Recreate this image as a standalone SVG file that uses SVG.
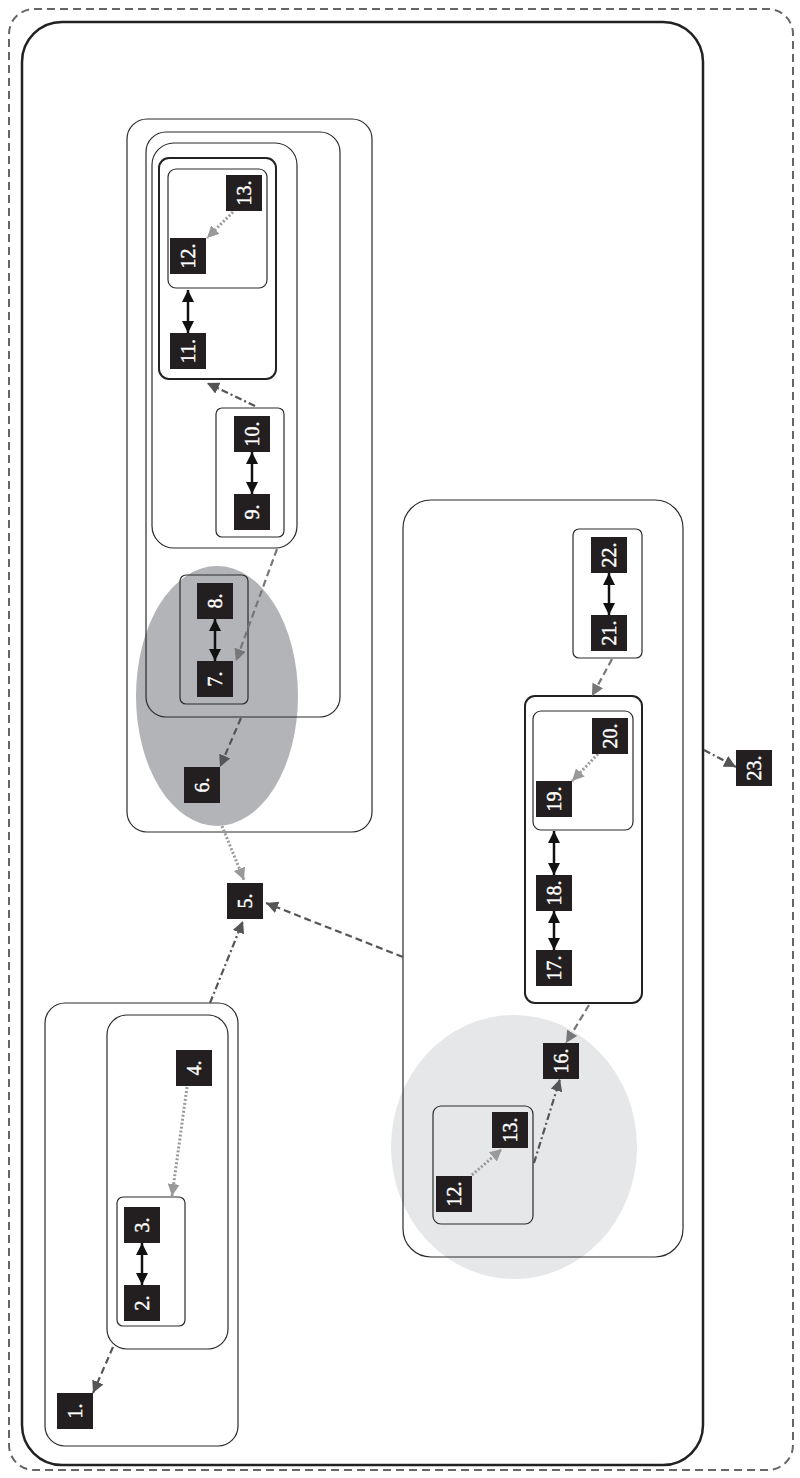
<svg xmlns="http://www.w3.org/2000/svg" width="800" height="1478" viewBox="0 0 800 1478">
<style>
.c{fill:none;stroke:#2b2b2b;stroke-width:1.2}
.ck{fill:none;stroke:#222;stroke-width:2}
.n{fill:#231f20}
.t{fill:#fff;stroke:#fff;stroke-width:0.4;font-family:"Liberation Serif","DejaVu Serif",serif;font-size:20px;text-anchor:middle;dominant-baseline:central}
.bi{stroke:#111;stroke-width:2.5;fill:none;marker-start:url(#ab);marker-end:url(#ab)}
.dot{stroke:#9a9a9a;stroke-width:3;stroke-dasharray:2 2;fill:none;marker-end:url(#al)}
.dsh{stroke:#555;stroke-width:2.2;stroke-dasharray:7 4;fill:none;marker-end:url(#ad)}
.dshg{stroke:#777;stroke-width:2.2;stroke-dasharray:7 4;fill:none;marker-end:url(#ag)}
.dd{stroke:#555;stroke-width:2.2;stroke-dasharray:7 3 2 3;fill:none;marker-end:url(#ad)}
</style>
<defs>
<marker id="ab" markerUnits="userSpaceOnUse" markerWidth="12" markerHeight="12" viewBox="0 0 10 10" refX="10" refY="5" orient="auto-start-reverse"><path d="M0,0L10,5L0,10z" fill="#111"/></marker>
<marker id="al" markerUnits="userSpaceOnUse" markerWidth="12" markerHeight="12" viewBox="0 0 10 10" refX="10" refY="5" orient="auto"><path d="M0,0L10,5L0,10z" fill="#999"/></marker>
<marker id="ad" markerUnits="userSpaceOnUse" markerWidth="12" markerHeight="12" viewBox="0 0 10 10" refX="10" refY="5" orient="auto"><path d="M0,0L10,5L0,10z" fill="#555"/></marker>
<marker id="ag" markerUnits="userSpaceOnUse" markerWidth="12" markerHeight="12" viewBox="0 0 10 10" refX="10" refY="5" orient="auto"><path d="M0,0L10,5L0,10z" fill="#777"/></marker>
</defs>
<rect width="800" height="1478" fill="#fff"/>
<g id="bg-shapes">
<ellipse cx="217" cy="696" rx="81" ry="130" fill="#b3b4b7"/>
<ellipse cx="514" cy="1147" rx="123" ry="132" fill="#e6e7e8"/>
</g>
<g id="containers">
<rect x="9" y="9" width="784" height="1461" rx="25" fill="none" stroke="#666" stroke-width="2" stroke-dasharray="8 5"/>
<rect x="22" y="22" width="681" height="1443" rx="40" fill="none" stroke="#222" stroke-width="2.5"/>
<rect class="c" x="127" y="119" width="245" height="713" rx="20"/>
<rect class="c" x="146" y="132" width="194" height="585" rx="20"/>
<rect class="c" x="152" y="143" width="145" height="405" rx="22"/>
<rect class="ck" x="159" y="158" width="117" height="221" rx="10"/>
<rect class="c" x="168" y="169" width="99" height="119" rx="8"/>
<rect class="c" x="216" y="408" width="68" height="129" rx="6"/>
<rect class="c" x="180" y="575" width="68" height="129" rx="6"/>
<rect class="c" x="403" y="500" width="280" height="757" rx="28"/>
<rect class="c" x="573" y="529" width="69" height="129" rx="6"/>
<rect class="ck" x="525" y="696" width="117" height="307" rx="10"/>
<rect class="c" x="533" y="711" width="100" height="119" rx="8"/>
<rect class="c" x="433" y="1106" width="100" height="118" rx="8"/>
<rect class="c" x="45" y="1003" width="193" height="443" rx="20"/>
<rect class="c" x="107" y="1015" width="121" height="334" rx="20"/>
<rect class="c" x="117" y="1197" width="68" height="129" rx="6"/>
</g>
<g id="connectors">
<path class="dot" d="M233,212L207,238"/>
<path class="bi" d="M188,290L188,333"/>
<path class="dd" d="M255,406L207,383"/>
<path class="bi" d="M252,452L252,494"/>
<path class="dshg" d="M277,549L236,661"/>
<path class="bi" d="M215,619L215,661"/>
<path class="dsh" d="M241,718L220,767"/>
<path class="dot" d="M222,826L244,880"/>
<path class="dsh" d="M403,957L266,903"/>
<path class="dd" d="M210,1003L243,921"/>
<path class="bi" d="M609,573L609,615"/>
<path class="dshg" d="M612,659L592,696"/>
<path class="dot" d="M598,754L572,781"/>
<path class="bi" d="M554,831L554,875"/>
<path class="bi" d="M554,911L554,950"/>
<path class="dshg" d="M589,1005L566,1043"/>
<path class="dot" d="M472,1175L502,1149"/>
<path class="dd" d="M534,1163L560,1079"/>
<path class="dot" d="M187,1087L172,1196"/>
<path class="bi" d="M142,1243L142,1285"/>
<path class="dsh" d="M113,1347L93,1393"/>
<path class="dd" d="M704,750L736,767"/>
</g>
<g id="n1"><rect class="n" x="57" y="1393" width="36" height="36"/><text class="t" transform="rotate(-90 75 1411)" x="75" y="1411">1.</text></g>
<g id="n2"><rect class="n" x="124" y="1285" width="36" height="36"/><text class="t" transform="rotate(-90 142 1303)" x="142" y="1303">2.</text></g>
<g id="n3"><rect class="n" x="124" y="1207" width="36" height="36"/><text class="t" transform="rotate(-90 142 1225)" x="142" y="1225">3.</text></g>
<g id="n4"><rect class="n" x="176" y="1050" width="36" height="36"/><text class="t" transform="rotate(-90 194 1068)" x="194" y="1068">4.</text></g>
<g id="n5"><rect class="n" x="227" y="883" width="36" height="36"/><text class="t" transform="rotate(-90 245 901)" x="245" y="901">5.</text></g>
<g id="n6"><rect class="n" x="184" y="767" width="36" height="36"/><text class="t" transform="rotate(-90 202 785)" x="202" y="785">6.</text></g>
<g id="n7"><rect class="n" x="197" y="661" width="36" height="36"/><text class="t" transform="rotate(-90 215 679)" x="215" y="679">7.</text></g>
<g id="n8"><rect class="n" x="197" y="583" width="36" height="36"/><text class="t" transform="rotate(-90 215 601)" x="215" y="601">8.</text></g>
<g id="n9"><rect class="n" x="234" y="494" width="36" height="36"/><text class="t" transform="rotate(-90 252 512)" x="252" y="512">9.</text></g>
<g id="n10"><rect class="n" x="234" y="416" width="36" height="36"/><text class="t" transform="rotate(-90 252 434)" x="252" y="434">10.</text></g>
<g id="n11"><rect class="n" x="170" y="333" width="36" height="36"/><text class="t" transform="rotate(-90 188 351)" x="188" y="351">11.</text></g>
<g id="n12a"><rect class="n" x="170" y="238" width="36" height="36"/><text class="t" transform="rotate(-90 188 256)" x="188" y="256">12.</text></g>
<g id="n13a"><rect class="n" x="226" y="175" width="36" height="36"/><text class="t" transform="rotate(-90 244 193)" x="244" y="193">13.</text></g>
<g id="n12b"><rect class="n" x="436" y="1176" width="36" height="36"/><text class="t" transform="rotate(-90 454 1194)" x="454" y="1194">12.</text></g>
<g id="n13b"><rect class="n" x="492" y="1112" width="36" height="36"/><text class="t" transform="rotate(-90 510 1130)" x="510" y="1130">13.</text></g>
<g id="n16"><rect class="n" x="543" y="1043" width="36" height="36"/><text class="t" transform="rotate(-90 561 1061)" x="561" y="1061">16.</text></g>
<g id="n17"><rect class="n" x="536" y="950" width="36" height="36"/><text class="t" transform="rotate(-90 554 968)" x="554" y="968">17.</text></g>
<g id="n18"><rect class="n" x="536" y="875" width="36" height="36"/><text class="t" transform="rotate(-90 554 893)" x="554" y="893">18.</text></g>
<g id="n19"><rect class="n" x="536" y="781" width="36" height="36"/><text class="t" transform="rotate(-90 554 799)" x="554" y="799">19.</text></g>
<g id="n20"><rect class="n" x="592" y="718" width="36" height="36"/><text class="t" transform="rotate(-90 610 736)" x="610" y="736">20.</text></g>
<g id="n21"><rect class="n" x="591" y="615" width="36" height="36"/><text class="t" transform="rotate(-90 609 633)" x="609" y="633">21.</text></g>
<g id="n22"><rect class="n" x="591" y="537" width="36" height="36"/><text class="t" transform="rotate(-90 609 555)" x="609" y="555">22.</text></g>
<g id="n23"><rect class="n" x="736" y="750" width="36" height="36"/><text class="t" transform="rotate(-90 754 768)" x="754" y="768">23.</text></g>
</svg>
